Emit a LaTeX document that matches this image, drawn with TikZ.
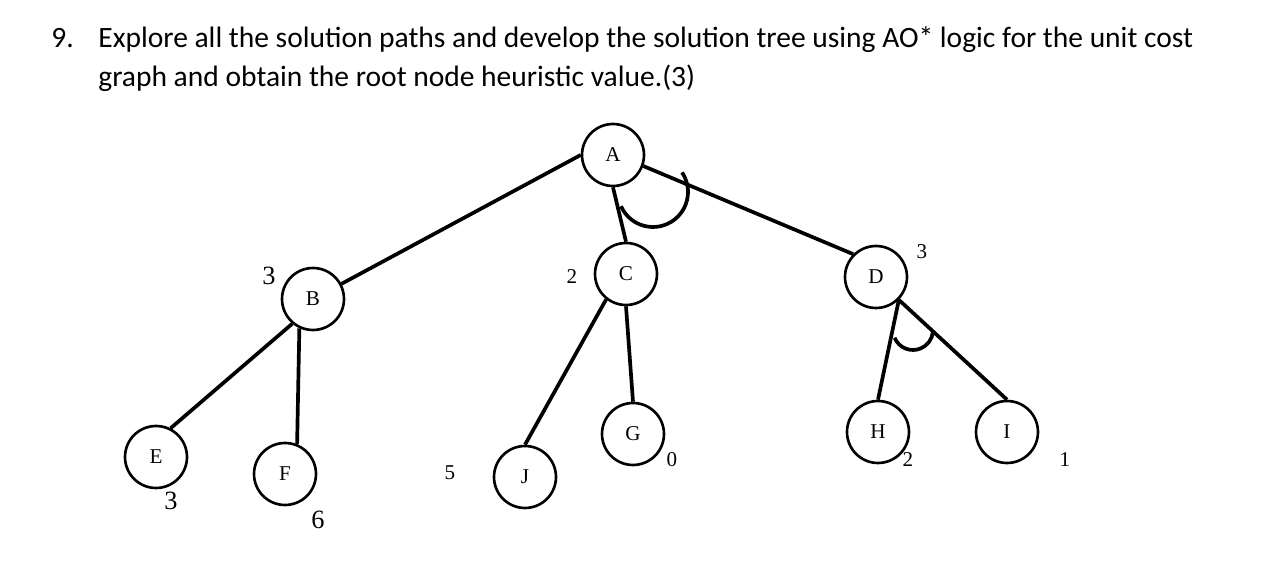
\documentclass[tikz,border=0pt]{standalone}
\usepackage{fontspec}
\setmainfont{Liberation Serif}
\newfontfamily\titlefont{Carlito}

\begin{document}
\begin{tikzpicture}[x=0.02cm, y=-0.02cm]
        % Define styles
        \tikzset{
            vertex/.style={circle, draw, line width=1.5pt, minimum size=1.24cm, inner sep=0pt, font=\fontsize{12}{14}\selectfont},
            cost/.style={inner sep=0pt, font=\fontsize{12}{14}\selectfont},
            bigcost/.style={inner sep=0pt, font=\fontsize{15}{18}\selectfont},
            question/.style={anchor=base west, inner sep=0pt, font=\titlefont\fontsize{16.8}{22}\selectfont},
            edge/.style={line width=2.1pt},
            andarc/.style={line width=2.1pt}
        }
        \useasboundingbox (0,0) rectangle (1276,570);

        % Question
        \node[question] (qnum) at (51,48) {9.};
        \node[question] (qline_1) at (98,48) {Explore all the solution paths and develop the solution tree using AO* logic for the unit cost};
        \node[question] (qline_2) at (98,87) {graph and obtain the root node heuristic value.(3)};

        % Nodes
        \node[vertex] (A) at (613,155) {A};
        \node[vertex] (B) at (313,299) {B};
        \node[vertex] (C) at (626,274) {C};
        \node[vertex] (D) at (876,277) {D};
        \node[vertex] (E) at (156,457) {E};
        \node[vertex] (F) at (285,474) {F};
        \node[vertex] (G) at (633,434) {G};
        \node[vertex] (H) at (878,432) {H};
        \node[vertex] (I) at (1007,432) {I};
        \node[vertex] (J) at (525,477) {J};

        % Heuristic values
        \node[bigcost] (h_B) at (269,276) {3};
        \node[cost] (h_C) at (572,277) {2};
        \node[cost] (h_D) at (922,252) {3};
        \node[bigcost] (h_E) at (171,501) {3};
        \node[bigcost] (h_F) at (318,520) {6};
        \node[cost] (h_G) at (672,460) {0};
        \node[cost] (h_H) at (908,460) {2};
        \node[cost] (h_I) at (1065,460) {1};
        \node[cost] (h_J) at (450,473) {5};

        % Edges
        \draw[edge] (A.west) -- (B.28);
        \draw[edge] (A.south) -- (C.north);
        \draw[edge] (A.-20) -- (D.north west);
        \draw[edge] (B.230) -- (E.63);
        \draw[edge] (B.245) -- (F.68);
        \draw[edge] (C.232) -- (J.north);
        \draw[edge] (C.south) -- (G.north);
        \draw[edge] (D.south east) -- (H.north);
        \draw[edge] (D.south east) -- (I.north);

        % AND arcs
        \coordinate (and_A) at (653,192);
        \coordinate (and_D) at (913,330);
        \draw[andarc] ([shift={(204:0.7cm)}]and_A) arc[start angle=204, end angle=394, radius=0.7cm];
        \draw[andarc] ([shift={(203:0.4cm)}]and_D) arc[start angle=203, end angle=355, radius=0.4cm];
\end{tikzpicture}
\end{document}
